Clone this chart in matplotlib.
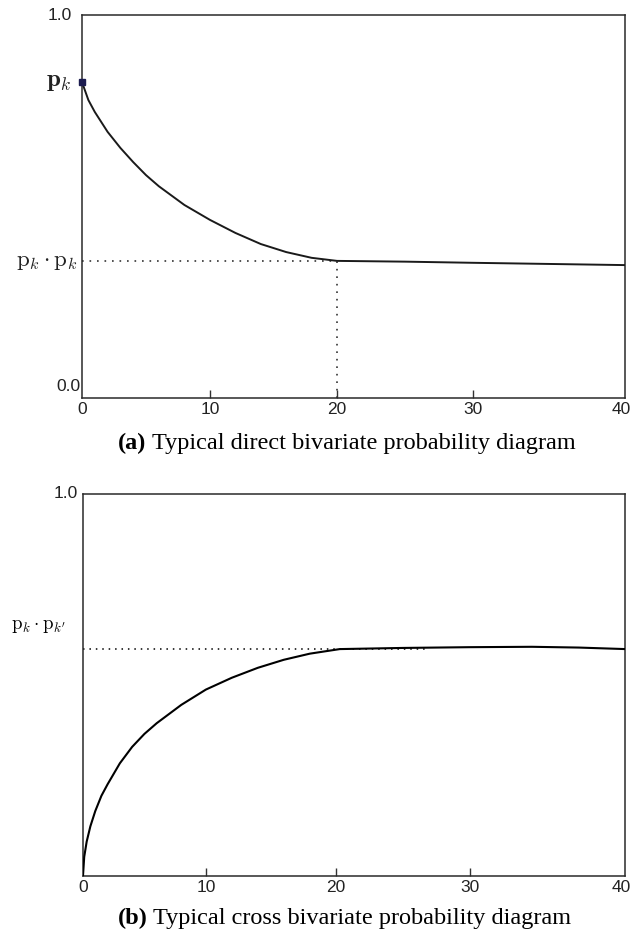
import numpy as np
import matplotlib.pyplot as plt
from matplotlib.transforms import ScaledTranslation

plt.rcParams['mathtext.fontset'] = 'cm'

# ---- Direct bivariate probability (panel a)
direct_x = [0, 0.5, 1, 2, 3, 4, 5, 6, 8, 10, 12, 14, 16, 18, 20, 25, 30, 35, 40]
direct_y = [0.825, 0.778, 0.747, 0.695, 0.653, 0.616, 0.582, 0.553, 0.504, 0.465,
            0.431, 0.402, 0.381, 0.366, 0.358, 0.356, 0.353, 0.350, 0.347]
pk = 0.825          # p_k
pk_pk = 0.358       # p_k . p_k
lag_a = 20          # range reached

# ---- Cross bivariate probability (panel b)
cross_x = [0, 0.1, 0.3, 0.6, 1, 1.5, 2, 3, 4, 5, 6, 8, 10, 12, 14, 16, 18, 20.3,
           25, 30, 34, 37, 40]
cross_y = [0, 0.05, 0.09, 0.13, 0.17, 0.21, 0.24, 0.295, 0.338, 0.372, 0.40, 0.448,
           0.488, 0.519, 0.545, 0.566, 0.582, 0.594, 0.597, 0.599, 0.600, 0.598, 0.594]
pk_pkp = 0.594      # p_k . p_k'
dotted_end_b = 27

x_ticks = [0, 10, 20, 30, 40]
x_ticklabels = ['0', '10', '20', '30', '40']

# the hand-drawn axes do not space the ticks evenly; map them piecewise
def tick_scale(px):
    knots = np.array(x_ticks, dtype=float)
    px = np.array(px, dtype=float)
    fwd = lambda v: np.interp(v, knots, px)
    inv = lambda v: np.interp(v, px, knots)
    return fwd, inv

fig = plt.figure(figsize=(6.33, 9.34), dpi=100)
ax_a = fig.add_axes([0.1295, 0.5739, 0.858, 0.410])
ax_b = fig.add_axes([0.1311, 0.0621, 0.857, 0.409])

label_font = dict(family='Liberation Sans', size=12.5, color='#222222')

def style_axes(ax, px):
    ax.set_xscale('function', functions=tick_scale(px))
    ax.set_xlim(0, 40)
    ax.set_ylim(0, 1)
    ax.set_xticks(x_ticks)
    ax.set_xticklabels(x_ticklabels, fontdict=label_font)
    ax.xaxis.set_minor_locator(plt.NullLocator())
    ax.tick_params(axis='x', direction='in', length=6, width=1.0, pad=3,
                   color='#333333')
    ax.set_yticks([])
    for s in ax.spines.values():
        s.set_linewidth(1.1)
        s.set_color('#2a2a2a')
    # no visible marks at the ends
    ticks = ax.xaxis.get_major_ticks()
    for t in (ticks[0], ticks[-1]):
        t.tick1line.set_visible(False)
    # keep the last label inside the figure
    last = ax.get_xticklabels()[-1]
    last.set_ha('right')
    last.set_transform(last.get_transform()
                       + ScaledTranslation(4 / 72, 0, fig.dpi_scale_trans))

style_axes(ax_a, [0, 128, 255, 391, 543])
style_axes(ax_b, [0, 123, 253, 387, 543])

# ---- panel a
ax_a.plot(direct_x, direct_y, color='#1a1a1a', lw=1.4, zorder=3)
ax_a.plot([0, lag_a], [pk_pk, pk_pk], color='#333333', lw=1.2,
          linestyle=(0, (1, 3.5)))
ax_a.plot([lag_a, lag_a], [0, pk_pk], color='#333333', lw=1.2,
          linestyle=(0, (1, 3.5)))
ax_a.plot([0], [pk], marker='s', ms=5, color='#1c1c50', clip_on=False, zorder=4)

def ylabel(ax, text, y, dx, dy, va='center', **kw):
    ax.annotate(text, xy=(0, y), xycoords=('axes fraction', 'data'),
                xytext=(dx, dy), textcoords='offset points',
                ha='right', va=va, **kw)

ylabel(ax_a, '1.0', 1.0, -7, 0, **label_font)
ylabel(ax_a, '0.0', 0.0, -1, 3, va='bottom', **label_font)
ylabel(ax_a, r'$\mathbf{p}_k$', pk, -7, 1, size=18, color='#222222')
ylabel(ax_a, r'$\mathrm{p}_k\cdot\mathrm{p}_k$', pk_pk, -3, 0, size=16.5,
       color='#222222')

# ---- panel b
ax_b.plot(cross_x, cross_y, color='black', lw=1.5, zorder=3)
ax_b.plot([0, dotted_end_b], [pk_pkp, pk_pkp], color='black', lw=1.1,
          linestyle=(0, (1, 3.2)))
ylabel(ax_b, '1.0', 1.0, -4, 0, **label_font)
ylabel(ax_b, r"$\mathrm{p}_k\cdot\mathrm{p}_{k'}$", pk_pkp, -12, 10, va='bottom',
       size=13.5, color='black')

# ---- captions
def caption(y, tag, rest):
    t = fig.text(0.186, y, tag, family='Liberation Serif', weight='bold',
                 size=17.5, va='baseline')
    ax_b.annotate(rest, xy=(1, 0), xycoords=t, xytext=(4, 0),
                  textcoords='offset points', family='Liberation Serif',
                  size=17.5, va='bottom', annotation_clip=False)

caption(0.519, '(a)', 'Typical direct bivariate probability diagram')
caption(0.011, '(b)', 'Typical cross bivariate probability diagram')

fig.savefig('out.png', dpi=100)
